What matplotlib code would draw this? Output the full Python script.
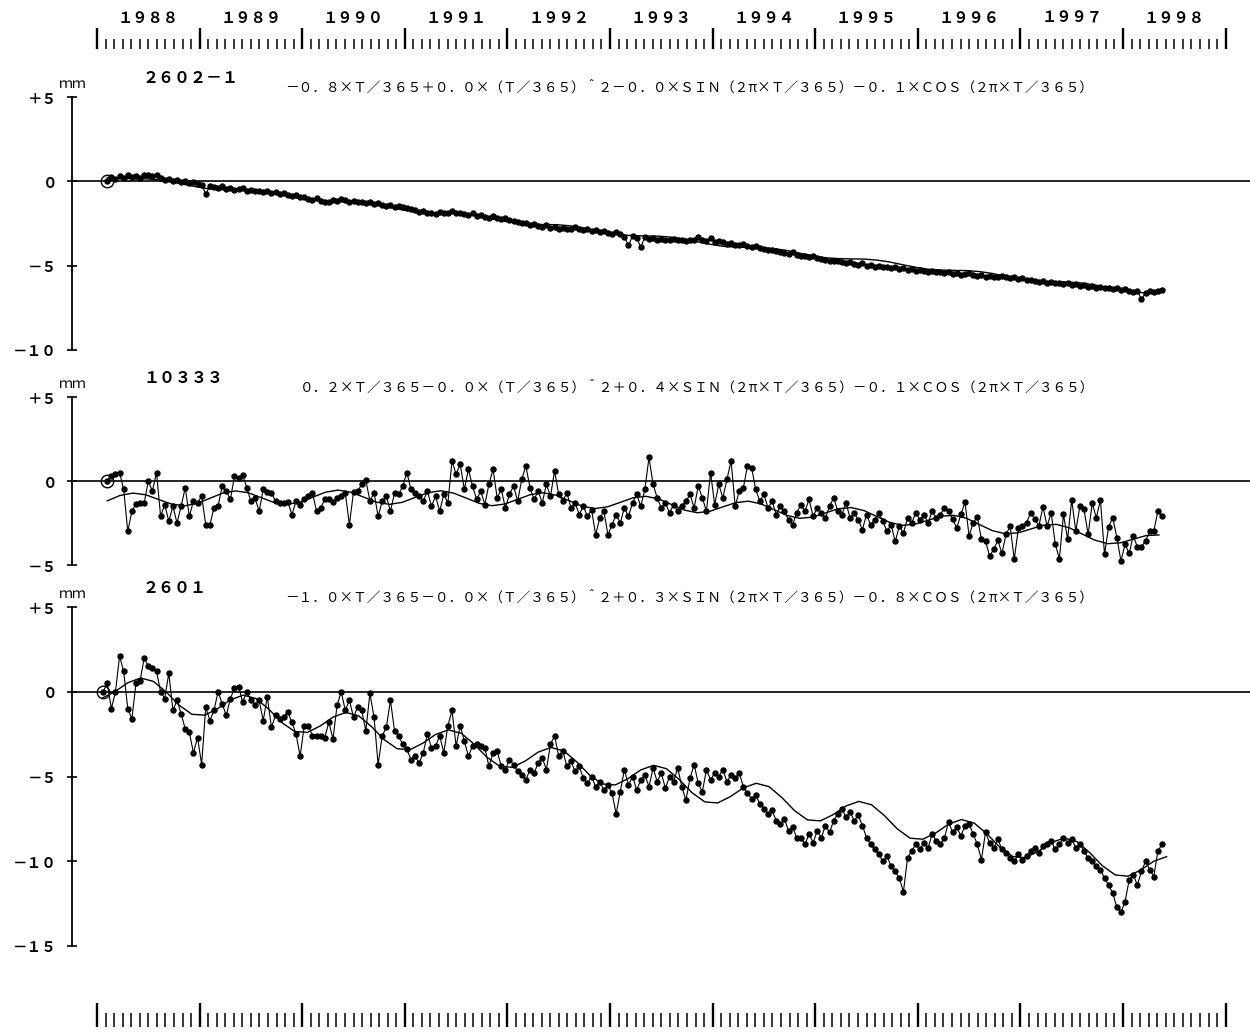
import numpy as np
import matplotlib.pyplot as plt

plt.rcParams['font.family'] = ['Noto Sans CJK JP', 'DejaVu Sans']

# ---------------------------------------------------------------- data
ruler_years = list(range(1988, 1999))
ruler_labels = ['１９８８', '１９８９', '１９９０', '１９９１', '１９９２', '１９９３',
                '１９９４', '１９９５', '１９９６', '１９９７', '１９９８']

obs_step = 0.04      # years between observations
fit_step = 0.125     # years between samples of the fitted curve

# station 2602-1
st1_name = '２６０２－１'
st1_formula = '－０．８×Ｔ／３６５＋０．０×（Ｔ／３６５）＾２－０．０×ＳＩＮ（２π×Ｔ／３６５）－０．１×ＣＯＳ（２π×Ｔ／３６５）'
st1_start = 1988.10
st1_obs = [
    0.0, 0.25, 0.15, 0.3, 0.2, 0.35, 0.25, 0.3, 0.2, 0.35, 0.4, 0.3, 0.35, 0.2, 0.1, 0.15, 0.0, 0.05, -0.05, 0.0, -0.1, -0.05, -0.15, -0.2, -0.75,
    -0.3, -0.35, -0.4, -0.3, -0.45, -0.4, -0.5, -0.45, -0.4, -0.55, -0.5, -0.6, -0.55, -0.65, -0.6, -0.7, -0.65, -0.75, -0.7, -0.8, -0.85, -0.8, -0.9, -0.95, -1.05,
    -1.1, -1.0, -1.15, -1.25, -1.2, -1.1, -1.15, -1.05, -1.1, -1.2, -1.15, -1.25, -1.2, -1.3, -1.25, -1.35, -1.3, -1.4, -1.45, -1.4, -1.5, -1.45, -1.55, -1.6, -1.65,
    -1.7, -1.8, -1.75, -1.9, -1.85, -1.95, -1.8, -1.9, -1.85, -1.75, -1.9, -1.85, -1.95, -2.0, -1.9, -2.05, -2.0, -2.1, -2.15, -2.05, -2.2, -2.25, -2.2, -2.3, -2.35,
    -2.4, -2.5, -2.45, -2.6, -2.55, -2.65, -2.7, -2.6, -2.75, -2.7, -2.8, -2.75, -2.85, -2.8, -2.7, -2.85, -2.9, -2.8, -2.95, -2.9, -3.0, -2.95, -3.05, -3.1, -3.0,
    -3.15, -3.3, -3.8, -3.25, -3.35, -3.9, -3.3, -3.4, -3.35, -3.45, -3.4, -3.5, -3.45, -3.4, -3.5, -3.45, -3.55, -3.5, -3.45, -3.3, -3.5, -3.55, -3.35, -3.6, -3.55,
    -3.6, -3.7, -3.65, -3.75, -3.8, -3.7, -3.85, -3.9, -3.85, -3.95, -4.0, -4.1, -4.05, -4.15, -4.2, -4.25, -4.3, -4.2, -4.35, -4.4, -4.45, -4.5, -4.45, -4.55, -4.6,
    -4.65, -4.7, -4.75, -4.7, -4.8, -4.85, -4.8, -4.9, -4.95, -4.85, -5.0, -4.95, -5.05, -5.0, -5.1, -5.05, -5.15, -5.1, -5.2, -5.15, -5.25, -5.2, -5.3, -5.25, -5.3,
    -5.35, -5.3, -5.4, -5.35, -5.45, -5.4, -5.5, -5.45, -5.55, -5.5, -5.45, -5.55, -5.6, -5.55, -5.65, -5.6, -5.7, -5.65, -5.6, -5.7, -5.75, -5.7, -5.8, -5.75, -5.85,
    -5.85, -5.9, -5.95, -5.9, -6.0, -5.95, -6.05, -6.0, -6.1, -6.05, -6.15, -6.1, -6.2, -6.15, -6.25, -6.2, -6.3, -6.25, -6.35, -6.3, -6.4, -6.35, -6.45, -6.4, -6.5,
    -6.55, -6.5, -7.0, -6.6, -6.5, -6.55, -6.5, -6.45,
]
st1_fit_start = 1988.10
st1_fit = [
    0.23, 0.18, 0.16, 0.15, 0.09, -0.02, -0.18, -0.33, -0.45, -0.50, -0.52, -0.53, -0.59, -0.70, -0.86, -1.01,
    -1.13, -1.18, -1.20, -1.21, -1.27, -1.38, -1.54, -1.69, -1.81, -1.86, -1.88, -1.89, -1.95, -2.06, -2.22, -2.37,
    -2.49, -2.54, -2.56, -2.57, -2.63, -2.74, -2.90, -3.05, -3.17, -3.22, -3.24, -3.25, -3.31, -3.42, -3.58, -3.73,
    -3.85, -3.90, -3.92, -3.93, -3.99, -4.10, -4.26, -4.41, -4.53, -4.58, -4.60, -4.61, -4.67, -4.78, -4.94, -5.09,
    -5.21, -5.26, -5.28, -5.29, -5.35, -5.46, -5.62, -5.77, -5.89, -5.94, -5.96, -5.97, -6.03, -6.14, -6.30, -6.45,
    -6.57, -6.62, -6.64,
]

# station 10333
st2_name = '１０３３３'
st2_formula = '０．２×Ｔ／３６５－０．０×（Ｔ／３６５）＾２＋０．４×ＳＩＮ（２π×Ｔ／３６５）－０．１×ＣＯＳ（２π×Ｔ／３６５）'
st2_start = 1988.10
st2_obs = [
    0.0, 0.3, 0.4, 0.5, -0.5, -3.0, -1.8, -1.35, -1.3, -1.3, 0.0, -0.6, 0.5, -2.1, -1.4, -2.4, -1.5, -2.5, -1.5, -0.4, -2.1, -1.2, -1.3, -0.9, -2.6,
    -2.6, -1.6, -1.5, -0.3, -0.6, -1.1, 0.3, 0.2, 0.35, -0.4, -1.2, -1.0, -1.8, -0.5, -0.65, -0.7, -1.2, -1.3, -1.3, -1.25, -2.0, -1.2, -1.4, -1.1, -0.9,
    -0.7, -1.8, -1.6, -1.1, -1.1, -1.25, -1.0, -0.9, -0.7, -2.6, -0.65, -0.6, -0.2, 0.05, -1.2, -0.7, -2.1, -1.2, -0.9, -1.8, -0.7, -0.8, -0.3, 0.5, -0.5,
    -0.7, -0.9, -1.2, -0.6, -1.5, -0.9, -1.8, -0.8, -1.3, 1.2, 0.4, 1.0, -0.5, 0.7, -0.3, -1.1, -0.6, -1.4, -0.2, 0.7, -1.0, -0.5, -1.6, -0.8, -0.3,
    -1.2, 0.1, 0.9, -0.4, -1.1, -0.6, -1.3, -0.2, -0.9, 0.6, -0.8, -1.2, -0.7, -1.6, -1.3, -2.0, -1.5, -2.1, -1.7, -3.2, -2.2, -1.8, -3.2, -2.6, -2.0,
    -2.5, -1.6, -2.1, -1.3, -0.8, -1.5, -0.5, 1.4, -0.2, -1.0, -1.6, -1.3, -1.9, -1.4, -1.8, -1.5, -1.2, -0.8, -1.6, -0.3, -1.0, -1.8, 0.5, -1.4, -0.2,
    -1.0, 0.1, 1.2, -1.5, -0.6, -0.4, 0.9, 0.8, -0.5, -1.2, -0.8, -1.6, -1.2, -2.0, -1.5, -1.8, -2.3, -2.6, -1.9, -1.4, -1.8, -1.1, -2.1, -1.6, -1.9,
    -2.2, -1.5, -1.0, -1.8, -2.0, -1.3, -2.2, -1.9, -2.3, -2.9, -2.0, -2.6, -2.3, -1.9, -2.4, -3.0, -2.6, -3.6, -2.7, -3.1, -2.2, -2.5, -1.9, -2.3, -2.0,
    -2.5, -1.8, -2.2, -2.0, -1.6, -1.79, -2.28, -2.78, -1.99, -1.27, -3.27, -2.48, -2.13, -3.47, -3.57, -4.46, -4.07, -3.53, -4.31, -3.18, -2.68, -4.67, -2.82, -2.68, -2.48,
    -1.89, -2.28, -2.68, -1.53, -2.68, -1.89, -3.77, -4.63, -1.99, -3.47, -1.13, -2.98, -1.49, -1.69, -3.18, -1.33, -2.18, -1.13, -4.37, -2.72, -2.18, -3.37, -4.76, -3.77, -4.31,
    -3.27, -3.91, -3.91, -3.57, -2.98, -2.98, -1.79, -2.08,
]
st2_fit_start = 1988.10
st2_fit = [
    -1.18, -0.86, -0.72, -0.82, -1.10, -1.37, -1.48, -1.34, -1.03, -0.72, -0.59, -0.70, -0.99, -1.28, -1.39, -1.27,
    -0.97, -0.67, -0.54, -0.67, -0.96, -1.26, -1.39, -1.27, -0.98, -0.70, -0.58, -0.72, -1.02, -1.33, -1.47, -1.37,
    -1.09, -0.81, -0.70, -0.85, -1.17, -1.49, -1.64, -1.54, -1.27, -1.00, -0.91, -1.07, -1.40, -1.73, -1.89, -1.80,
    -1.54, -1.29, -1.20, -1.37, -1.71, -2.05, -2.22, -2.15, -1.90, -1.65, -1.58, -1.76, -2.11, -2.46, -2.64, -2.57,
    -2.34, -2.10, -2.04, -2.22, -2.59, -2.95, -3.14, -3.09, -2.86, -2.63, -2.58, -2.78, -3.15, -3.52, -3.73, -3.68,
    -3.46, -3.25, -3.21,
]

# station 2601
st3_name = '２６０１'
st3_formula = '－１．０×Ｔ／３６５－０．０×（Ｔ／３６５）＾２＋０．３×ＳＩＮ（２π×Ｔ／３６５）－０．８×ＣＯＳ（２π×Ｔ／３６５）'
st3_start = 1988.06
st3_obs = [
    0.0, 0.5, -1.0, 0.0, 2.1, 1.2, -1.0, -1.6, 0.5, 0.65, 2.0, 1.5, 1.4, 1.2, 0.0, -0.4, 1.1, -1.1, -0.5, -1.3, -2.2, -2.4, -3.6, -2.7, -4.3,
    -0.9, -1.7, -1.1, 0.0, -0.7, -1.4, -0.4, 0.2, 0.3, -0.6, 0.0, -0.5, -0.8, -0.5, -1.7, -0.3, -2.1, -1.4, -1.6, -1.5, -1.2, -1.8, -2.5, -3.8, -2.0,
    -2.0, -2.6, -2.6, -2.6, -2.7, -1.8, -2.8, -0.8, 0.0, -1.1, -0.5, -1.5, -0.9, -1.1, -2.3, -0.1, -1.5, -4.3, -2.6, -2.1, -0.5, -2.3, -2.6, -3.1, -3.4,
    -4.0, -3.8, -4.2, -3.6, -2.5, -3.3, -3.2, -2.6, -3.6, -2.0, -1.1, -3.2, -2.0, -2.9, -3.8, -3.2, -3.1, -3.2, -3.3, -4.4, -3.6, -3.5, -4.4, -4.6, -4.0,
    -4.3, -4.7, -4.9, -5.2, -4.6, -4.8, -4.2, -3.9, -4.6, -3.1, -2.6, -3.8, -3.5, -4.4, -4.1, -4.7, -4.4, -5.1, -5.4, -5.0, -5.6, -5.3, -5.8, -5.5, -6.0,
    -7.2, -5.9, -4.6, -5.5, -5.0, -5.8, -5.2, -4.9, -5.6, -4.5, -5.3, -4.8, -5.7, -5.0, -5.3, -4.5, -5.6, -6.4, -5.1, -4.3, -5.4, -5.9, -4.6, -5.2, -4.8,
    -5.0, -4.6, -5.3, -4.9, -5.1, -4.8, -5.6, -6.0, -6.3, -6.1, -6.6, -6.9, -7.2, -7.0, -7.6, -7.8, -7.5, -8.2, -8.0, -8.6, -8.6, -9.0, -8.4, -8.9, -8.2,
    -8.6, -7.9, -8.3, -7.6, -7.2, -6.9, -7.4, -7.1, -7.6, -7.3, -7.9, -8.6, -9.0, -9.3, -9.6, -10.0, -9.7, -10.3, -10.6, -11.0, -11.8, -9.8, -9.4, -9.0, -9.3,
    -8.9, -9.2, -8.4, -8.8, -9.0, -8.6, -7.7, -8.3, -8.0, -8.5, -7.9, -7.8, -8.4, -9.0, -9.9, -8.3, -8.9, -9.2, -8.7, -9.3, -9.5, -9.8, -10.0, -9.6, -9.9,
    -9.7, -9.4, -9.2, -9.5, -9.1, -9.0, -8.8, -9.3, -9.0, -8.6, -8.9, -8.7, -9.2, -9.0, -9.4, -9.8, -10.0, -10.3, -10.5, -11.0, -11.4, -11.9, -12.7, -13.0, -12.4,
    -11.1, -10.8, -11.4, -10.6, -10.0, -10.5, -10.9, -9.4, -9.0,
]
st3_fit_start = 1988.05
st3_fit = [
    -0.38, 0.01, 0.53, 0.81, 0.61, -0.02, -0.79, -1.33, -1.38, -1.00, -0.48, -0.20, -0.40, -1.03, -1.81, -2.34,
    -2.40, -2.02, -1.50, -1.22, -1.42, -2.05, -2.83, -3.36, -3.42, -3.04, -2.52, -2.25, -2.45, -3.09, -3.86, -4.40,
    -4.46, -4.08, -3.56, -3.29, -3.49, -4.13, -4.91, -5.44, -5.50, -5.13, -4.61, -4.34, -4.54, -5.18, -5.96, -6.50,
    -6.56, -6.18, -5.67, -5.40, -5.60, -6.24, -7.02, -7.56, -7.62, -7.25, -6.74, -6.47, -6.67, -7.31, -8.09, -8.64,
    -8.70, -8.33, -7.81, -7.54, -7.75, -8.39, -9.18, -9.72, -9.79, -9.41, -8.90, -8.63, -8.84, -9.49, -10.27, -10.81,
    -10.88, -10.51, -10.00, -9.73,
]

# ---------------------------------------------------------------- layout
W, H = 1250, 1032
X1988, PX_PER_YEAR = 97, 102.6   # pixel column of 1988.0 and year width

fig = plt.figure(figsize=(W / 100, H / 100), dpi=100)
fig.patch.set_facecolor('white')


def year_at(px):
    return 1988 + (px - X1988) / PX_PER_YEAR


def add_box(left, top, right, bottom):
    return fig.add_axes([left / W, 1 - bottom / H, (right - left) / W, (bottom - top) / H])


def put_text(x, y, s, **kw):
    fig.text(x / W, 1 - y / H, s, va='center', color='black', **kw)


def draw_ruler(top, base, long_tick, short_tick, with_labels):
    ax = add_box(0, top, W, base)
    ax.set_xlim(year_at(0), year_at(W))
    ax.set_ylim(0, base - top)
    months = np.arange(11 * 12 + 1)
    t = 1988 + months / 12
    year_mark = months % 12 == 0
    ax.vlines(t[~year_mark], 0, short_tick, color='black', lw=1.1, clip_on=False)
    ax.vlines(t[year_mark], 0, long_tick, color='black', lw=1.7, clip_on=False)
    if with_labels:
        for yr, lab in zip(ruler_years, ruler_labels):
            ax.text(yr + 0.5, base - top - 18, lab, ha='center', va='center',
                    fontsize=11, fontweight='bold')
    ax.axis('off')


def draw_panel(top, bottom, ymin, name, formula, formula_x, start, obs, fit_start, fit):
    ax = add_box(72, top, W, bottom)
    ax.set_xlim(year_at(72), year_at(W))
    ax.set_ylim(ymin, 5)
    ax.patch.set_alpha(0)
    for side in ('top', 'right', 'bottom'):
        ax.spines[side].set_visible(False)
    ax.spines['left'].set_linewidth(1.3)
    ax.set_xticks([])
    ticks = list(range(5, ymin - 1, -5))
    labels = []
    for v in ticks:
        digits = str(abs(v)).translate(str.maketrans('0123456789', '０１２３４５６７８９'))
        labels.append(('＋' if v > 0 else '－' if v < 0 else '') + digits)
    ax.set_yticks(ticks, labels)
    ax.tick_params(axis='y', direction='inout', length=7.5, width=1.2, pad=7,
                   labelsize=10.5)
    for lab in ax.get_yticklabels():
        lab.set_fontweight('bold')

    ax.axhline(0, color='black', lw=1.2)

    t = start + obs_step * np.arange(len(obs))
    ax.plot(t, obs, '-o', color='black', lw=0.8, ms=3.6, clip_on=False)
    tf = fit_start + fit_step * np.arange(len(fit))
    ax.plot(tf, fit, color='black', lw=1.0)
    ax.plot(t[0], obs[0], 'o', mfc='none', mec='black', ms=9, mew=1.0)

    put_text(73, top - 13, 'ｍｍ', ha='center', fontsize=10)
    put_text(143, top - 19, name, ha='left', fontsize=11.5, fontweight='bold')
    put_text(formula_x, top - 8, formula, ha='left', fontsize=9.8)


draw_ruler(0, 49, 21, 10, True)
draw_ruler(995, 1027, 24, 14, False)

draw_panel(97, 350, -10, st1_name, st1_formula, 285, st1_start, st1_obs, st1_fit_start, st1_fit)
draw_panel(397, 565, -5, st2_name, st2_formula, 300, st2_start, st2_obs, st2_fit_start, st2_fit)
draw_panel(607, 946, -15, st3_name, st3_formula, 285, st3_start, st3_obs, st3_fit_start, st3_fit)

fig.savefig('out.png', dpi=100, facecolor='white')
